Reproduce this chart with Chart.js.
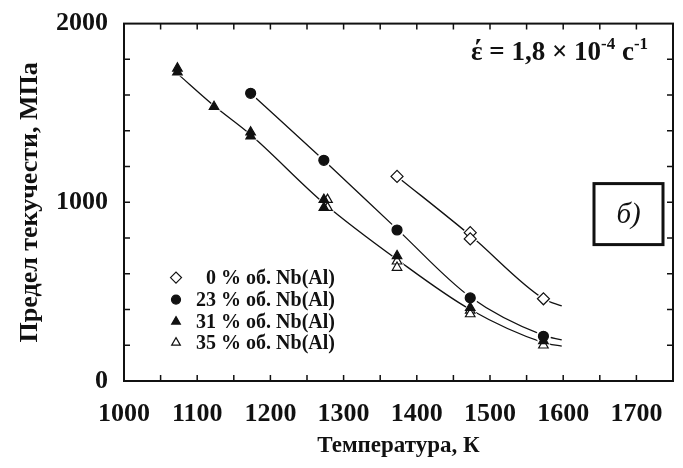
<!DOCTYPE html>
<html>
<head>
<meta charset="utf-8">
<script src="https://cdn.jsdelivr.net/npm/chart.js@4"></script>
<style>
  html, body { margin: 0; padding: 0; background: #fff; }
  #wrap { width: 683px; height: 468px; }
</style>
</head>
<body>
<div id="wrap"><canvas id="chart"></canvas></div>
<script>
// Данные (температура, К / предел текучести, МПа)
const temps0 = [1373, 1473, 1473, 1573];
const stress0 = [1145, 830, 795, 460];

const temps23 = [1173, 1273, 1373, 1473, 1573];
const stress23 = [1610, 1235, 845, 465, 250];

const temps31 = [1073, 1073, 1123, 1173, 1173, 1273, 1273, 1373, 1473, 1573];
const stress31 = [1750, 1728, 1535, 1392, 1370, 1015, 970, 700, 410, 225];

const temps35 = [1278, 1278, 1373, 1373, 1473, 1473, 1573];
const stress35 = [1015, 970, 670, 635, 395, 375, 200];

// аппроксимирующие кривые
const fit0T = [1373, 1473, 1573, 1598];
const fit0S = [1145, 815, 460, 420];
const fit23T = [1173, 1273, 1373, 1473, 1573, 1598];
const fit23S = [1610, 1235, 850, 470, 255, 230];
const fit31T = [1073, 1123, 1173, 1273, 1373, 1473, 1573, 1598];
const fit31S = [1720, 1540, 1378, 995, 680, 400, 215, 195];

const legendLabels = ['0 % об. Nb(Al)', '23 % об. Nb(Al)', '31 % об. Nb(Al)', '35 % об. Nb(Al)'];
const xTitle = 'Температура, К';
const yTitle = 'Предел текучести, МПа';

const FONT = '"Liberation Serif", "Times New Roman", serif';
const INK = '#111';

function pts(xs, ys) {
    return xs.map((x, i) => ({ x: x, y: ys[i] }));
}

const markers = [
    { t: temps0, s: stress0, style: 'rectRot', r: 6, fill: '#fff' },
    { t: temps23, s: stress23, style: 'circle', r: 5, fill: INK },
    { t: temps31, s: stress31, style: 'triangle', r: 5.5, fill: INK },
    { t: temps35, s: stress35, style: 'triangle', r: 5.5, fill: '#fff' }
];

const datasets = [];
markers.forEach((m, i) => {
    datasets.push({
        type: 'scatter',
        label: legendLabels[i],
        data: pts(m.t, m.s),
        pointStyle: m.style,
        pointRadius: m.r,
        backgroundColor: m.fill,
        borderColor: INK,
        borderWidth: 1.2,
        order: 0
    });
    // белый ореол вокруг маркеров, разрывает линии
    datasets.push({
        type: 'scatter',
        label: 'halo',
        data: pts(m.t, m.s),
        pointStyle: m.style,
        pointRadius: m.r + 2.5,
        backgroundColor: '#fff',
        borderWidth: 0,
        order: 1
    });
});

[[fit0T, fit0S], [fit23T, fit23S], [fit31T, fit31S]].forEach(f => {
    datasets.push({
        type: 'line',
        label: 'fit',
        data: pts(f[0], f[1]),
        borderColor: INK,
        borderWidth: 1.3,
        pointRadius: 0,
        cubicInterpolationMode: 'monotone',
        fill: false,
        order: 2
    });
});

// рамка с внутренними засечками, легенда и подписи
const decor = {
    id: 'decor',
    afterDatasetsDraw(chart) {
        const { ctx, chartArea: a, scales: { x, y } } = chart;
        ctx.save();
        ctx.strokeStyle = INK;
        ctx.lineWidth = 1.5;
        ctx.beginPath();
        for (let t = x.min + 50; t < x.max; t += 50) {
            const px = x.getPixelForValue(t);
            ctx.moveTo(px, a.bottom); ctx.lineTo(px, a.bottom - 6);
            ctx.moveTo(px, a.top); ctx.lineTo(px, a.top + 6);
        }
        for (let v = y.min + 200; v < y.max; v += 200) {
            const py = y.getPixelForValue(v);
            ctx.moveTo(a.left, py); ctx.lineTo(a.left + 6, py);
            ctx.moveTo(a.right, py); ctx.lineTo(a.right - 6, py);
        }
        ctx.stroke();
        ctx.lineWidth = 2;
        ctx.strokeRect(a.left, a.top, a.width, a.height);

        // легенда
        const lx = a.left + 52, rx = a.left + 211;
        const rowY = [a.top + 254, a.top + 276, a.top + 298, a.top + 319];
        ctx.font = 'bold 20px ' + FONT;
        ctx.fillStyle = INK;
        ctx.textAlign = 'right';
        ctx.textBaseline = 'middle';
        markers.forEach((m, i) => {
            ctx.fillStyle = m.fill;
            ctx.strokeStyle = INK;
            ctx.lineWidth = 1.2;
            Chart.helpers.drawPoint(ctx, { pointStyle: m.style, radius: m.r - 0.5, borderWidth: 1.2 }, lx, rowY[i]);
            ctx.fillStyle = INK;
            ctx.fillText(legendLabels[i], rx, rowY[i] + 1);
        });

        // скорость деформации
        ctx.textAlign = 'left';
        ctx.textBaseline = 'alphabetic';
        let cx = a.left + 347, by = a.top + 36;
        const big = 'bold 27px ' + FONT, small = 'bold 17px ' + FONT;
        const parts = [['έ = 1,8 × 10', big, 0], ['-4', small, -11], [' с', big, 0], ['-1', small, -11]];
        parts.forEach(p => {
            ctx.font = p[1];
            ctx.fillText(p[0], cx, by + p[2]);
            cx += ctx.measureText(p[0]).width;
        });

        // панель «б)»
        const bx = a.right - 79, byy = a.top + 160, bw = 69, bh = 61;
        ctx.fillStyle = '#fff';
        ctx.fillRect(bx, byy, bw, bh);
        ctx.lineWidth = 3;
        ctx.strokeRect(bx, byy, bw, bh);
        ctx.fillStyle = INK;
        ctx.font = 'italic 29px ' + FONT;
        ctx.textAlign = 'center';
        ctx.textBaseline = 'middle';
        ctx.fillText('б)', bx + bw / 2, byy + bh / 2 + 1);
        ctx.restore();
    }
};

new Chart(document.getElementById('chart'), {
    data: { datasets: datasets },
    options: {
        responsive: true,
        maintainAspectRatio: false,
        animation: false,
        devicePixelRatio: 1,
        layout: { padding: { top: 19, right: 10, left: 0, bottom: 0 } },
        plugins: {
            legend: { display: false },
            tooltip: { enabled: false }
        },
        scales: {
            x: {
                type: 'linear',
                min: 1000,
                max: 1750,
                grid: { display: false },
                border: { display: false },
                afterFit: s => { s.height = 87; },
                ticks: {
                    stepSize: 100,
                    includeBounds: false,
                    padding: 10,
                    maxRotation: 0,
                    color: INK,
                    callback: v => String(v),
                    font: { family: FONT, size: 26, weight: 'bold' }
                },
                title: {
                    display: true,
                    text: xTitle,
                    color: INK,
                    padding: { top: 0, bottom: 8 },
                    font: { family: FONT, size: 23, weight: 'bold' }
                }
            },
            y: {
                min: 0,
                max: 2000,
                grid: { display: false },
                border: { display: false },
                afterFit: s => { s.width = 124; },
                ticks: {
                    stepSize: 1000,
                    padding: 8,
                    color: INK,
                    callback: v => String(v),
                    font: { family: FONT, size: 26, weight: 'bold' }
                },
                title: {
                    display: true,
                    text: yTitle,
                    color: INK,
                    padding: { top: 15, bottom: 0 },
                    font: { family: FONT, size: 26, weight: 'bold' }
                }
            }
        }
    },
    plugins: [decor]
});
</script>
</body>
</html>
